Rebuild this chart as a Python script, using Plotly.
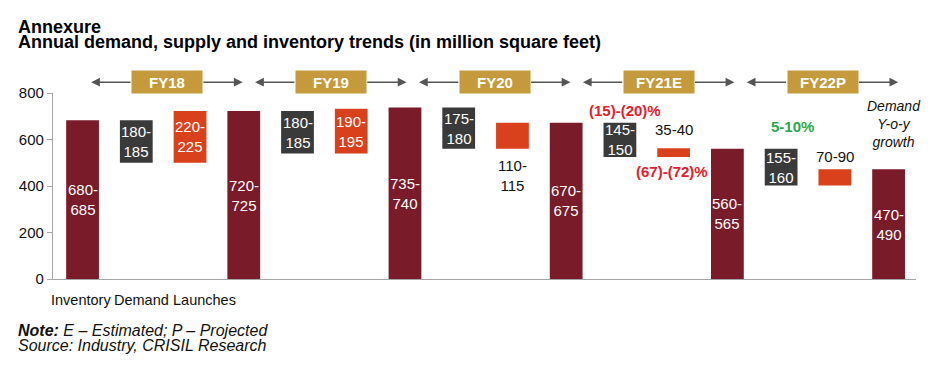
import plotly.graph_objects as go

# ---------------- data ----------------
periods = ["FY18", "FY19", "FY20", "FY21E", "FY22P"]
inventory = [682.5, 722.5, 737.5, 672.5, 560, 472]
inventory_labels = ["680-<br>685", "720-<br>725", "735-<br>740", "670-<br>675", "560-<br>565", "470-<br>490"]
demand = [182.5, 182.5, 177.5, 147.5, 157.5]
demand_labels = ["180-<br>185", "180-<br>185", "175-<br>180", "145-<br>150", "155-<br>160"]
launches = [222.5, 192.5, 112.5, 37.5, 70]
launch_labels = ["220-<br>225", "190-<br>195", "110-<br>115", "35-40", "70-90"]
category_names = ["Inventory", "Demand", "Launches"]
demand_growth = ["", "", "", "(15)-(20)%", "5-10%"]
launch_growth = ["", "", "", "(67)-(72)%", ""]
y_ticks = [0, 200, 400, 600, 800]

# ---------------- styles ----------------
FONT = "Liberation Sans, Arial, sans-serif"
MAROON = "#7A1B2A"
DARK = "#3A3A3A"
ORANGE = "#D9411C"
GOLD = "#C49A3C"
RED = "#E3202B"
GREEN = "#2BA84B"
BW = 0.61

inv_x = [3 * i for i in range(len(inventory))]
dem_x = [3 * i + 1 for i in range(len(demand))]
lau_x = [3 * i + 2 for i in range(len(launches))]
dem_base = [inventory[i] - demand[i] for i in range(len(demand))]
lau_base = dem_base

fig = go.Figure()
fig.add_trace(go.Bar(x=inv_x, y=inventory, width=BW, marker=dict(color=MAROON, line=dict(width=0)),
                     hoverinfo="skip", showlegend=False))
fig.add_trace(go.Bar(x=dem_x, y=demand, base=dem_base, width=BW, marker=dict(color=DARK, line=dict(width=0)),
                     hoverinfo="skip", showlegend=False))
fig.add_trace(go.Bar(x=lau_x, y=launches, base=lau_base, width=BW, marker=dict(color=ORANGE, line=dict(width=0)),
                     hoverinfo="skip", showlegend=False))

ann = []
# inside labels
for i, v in enumerate(inventory):
    ann.append(dict(x=inv_x[i], y=v / 2, xref="x", yref="y", text=inventory_labels[i], showarrow=False,
                    xanchor="center", yanchor="middle", font=dict(family=FONT, size=15, color="white")))
for i, v in enumerate(demand):
    ann.append(dict(x=dem_x[i], y=dem_base[i] + v / 2, xref="x", yref="y", text=demand_labels[i], showarrow=False,
                    xanchor="center", yanchor="middle", font=dict(family=FONT, size=15, color="white")))
for i, v in enumerate(launches):
    top = lau_base[i] + v
    if v > 150:
        ann.append(dict(x=lau_x[i], y=lau_base[i] + v / 2, xref="x", yref="y", text=launch_labels[i],
                        showarrow=False, xanchor="center", yanchor="middle",
                        font=dict(family=FONT, size=15, color="white")))
    elif v > 100:
        ann.append(dict(x=lau_x[i], y=lau_base[i], xref="x", yref="y", text=launch_labels[i], showarrow=False,
                        xanchor="center", yanchor="top", yshift=-6, font=dict(family=FONT, size=15, color="#111")))
    else:
        ann.append(dict(x=lau_x[i], y=top, xref="x", yref="y", text=launch_labels[i], showarrow=False,
                        xanchor="center", yanchor="bottom", yshift=8 if v < 50 else 2,
                        font=dict(family=FONT, size=15, color="#111")))

# growth labels
for i, g in enumerate(demand_growth):
    if g:
        col = RED if g.startswith("(") else GREEN
        ann.append(dict(x=dem_x[i], y=inventory[i], xref="x", yref="y", text="<b>" + g + "</b>", showarrow=False,
                        xanchor="center", yanchor="bottom", xshift=5 if col == RED else 11,
                        yshift=2 if col == RED else 12, font=dict(family=FONT, size=15, color=col)))
for i, g in enumerate(launch_growth):
    if g:
        ann.append(dict(x=lau_x[i], y=lau_base[i], xref="x", yref="y", text="<b>" + g + "</b>", showarrow=False,
                        xanchor="center", yanchor="top", xshift=-2, yshift=-4,
                        font=dict(family=FONT, size=15, color=RED)))

ann.append(dict(x=inv_x[-1], y=667, xref="x", yref="y", text="<i>Demand<br>Y-o-y<br>growth</i>", showarrow=False,
                xanchor="center", yanchor="middle", xshift=5, font=dict(family=FONT, size=14, color="#111")))

# bottom category labels
for j, (name, xs) in enumerate(zip(category_names, [-2, 5, 14])):
    ann.append(dict(x=j, y=0, xref="x", yref="y", text=name, showarrow=False, xanchor="center", yanchor="top",
                    yshift=-11, xshift=xs, font=dict(family=FONT, size=14.5, color="#111")))

# period headers
HY = 1.058
for i, p in enumerate(periods):
    c = 1.57 + 3.05 * i
    h = 1.41
    bw = 0.65
    for tip, tail in [(c - h, c - bw), (c + h, c + bw)]:
        ann.append(dict(x=tip, y=HY, xref="x", yref="paper", ax=tail, ay=0, axref="x", ayref="pixel",
                        text="", showarrow=True, arrowhead=2, arrowsize=1.1, arrowwidth=1.6, arrowcolor="#555555"))
    ann.append(dict(x=c, y=HY, xref="x", yref="paper", text="<b>" + p + "</b>", showarrow=False,
                    xanchor="center", yanchor="middle", width=70, height=22, bgcolor=GOLD, borderpad=0,
                    font=dict(family=FONT, size=15, color="white")))

# titles and notes (pixel positions within the figure)
ann.append(dict(x=8, y=19, xref="paper", yref="paper", text="<b>Annexure</b>", showarrow=False, xanchor="left",
                yanchor="middle", font=dict(family=FONT, size=18, color="black")))
ann.append(dict(x=8, y=34, xref="paper", yref="paper",
                text="<b>Annual demand, supply and inventory trends (in million square feet)</b>",
                showarrow=False, xanchor="left", yanchor="middle", font=dict(family=FONT, size=18, color="black")))
ann.append(dict(x=8, y=322, xref="paper", yref="paper",
                text="<b><i>Note:</i></b><i> E – Estimated; P – Projected</i>",
                showarrow=False, xanchor="left", yanchor="middle", font=dict(family=FONT, size=16, color="#111")))
ann.append(dict(x=8, y=337, xref="paper", yref="paper",
                text="<i>Source: Industry, CRISIL Research</i>",
                showarrow=False, xanchor="left", yanchor="middle", font=dict(family=FONT, size=16, color="#111")))

# figure is offset by the page's 8px body margin, so size it to fit the window
W, H = 941, 360
ML, MR, MT, MB = 45, 33, 85, 89
pw, ph = W - ML - MR, H - MT - MB
for a in ann[-4:]:
    a["x"] = (a["x"] - ML) / pw
    a["y"] = (H - MB - a["y"]) / ph

fig.update_layout(
    width=W, height=H,
    margin=dict(l=ML, r=MR, t=MT, b=MB),
    paper_bgcolor="white", plot_bgcolor="white",
    barmode="overlay",
    font=dict(family=FONT, color="#111"),
    annotations=ann,
    xaxis=dict(range=[-0.55, 15.51], showline=True, linecolor="#A6A6A6", linewidth=1.3, showticklabels=False,
               showgrid=False, zeroline=False, ticks=""),
    yaxis=dict(range=[0, 800], tickvals=y_ticks, showline=True, linecolor="#A6A6A6", linewidth=1.3,
               ticks="outside", ticklen=5, tickcolor="#A6A6A6", showgrid=False, zeroline=False,
               tickfont=dict(family=FONT, size=15, color="#111")),
)

fig.write_html("out.html")
